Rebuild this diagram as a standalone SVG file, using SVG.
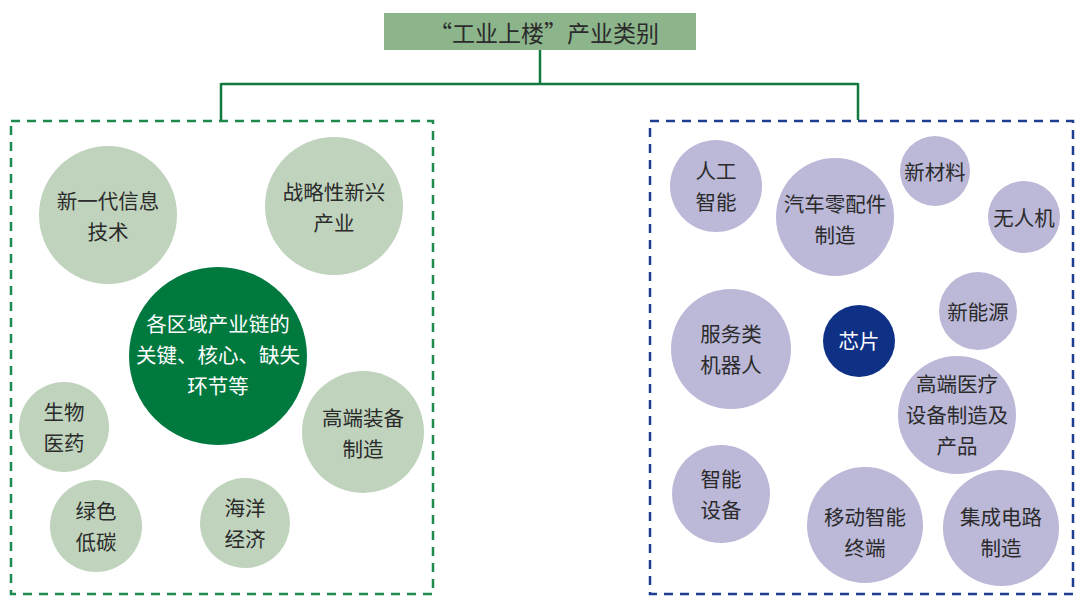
<svg xmlns="http://www.w3.org/2000/svg" width="1080" height="603" viewBox="0 0 1080 603">
<style>
text{font-family:"Noto Sans CJK SC","Noto Sans",sans-serif;font-size:20.5px;text-anchor:middle;dominant-baseline:central;fill:#2b2b2b}
.t{font-size:23px}
.g{fill:#c0d3bd}
.dg{fill:#00793f}
.p{fill:#bbb8d8}
.nv{fill:#0e3186}
.w{fill:#ffffff}
.ln{stroke:#127a40;stroke-width:2.5;fill:none}
</style>
<rect width="1080" height="603" fill="#ffffff"/>
<g id="title">
<rect x="384" y="13" width="312" height="37" fill="#8db58b"/>
<text class="t" x="544" y="32">“工业上楼”产业类别</text>
</g>
<g id="connectors">
<path class="ln" d="M540 50V84M221 84H858M221 83V120M858 83V120"/>
</g>
<g id="left-group">
<rect x="11" y="121" width="422" height="473" fill="none" stroke="#1e8a4e" stroke-width="2.5" stroke-dasharray="9,7"/>
</g>
<g id="right-group">
<rect x="650" y="121" width="423" height="473" fill="none" stroke="#1f3d8f" stroke-width="2.5" stroke-dasharray="9,7"/>
</g>
<g id="n1"><circle class="g" cx="108" cy="215" r="69"/><text x="108" y="200">新一代信息</text><text x="108" y="231">技术</text></g>
<g id="n2"><circle class="g" cx="334" cy="206" r="69"/><text x="334" y="191">战略性新兴</text><text x="334" y="222">产业</text></g>
<g id="n3"><circle class="dg" cx="218" cy="356" r="89"/><text class="w" x="218" y="323">各区域产业链的</text><text class="w" x="218" y="354">关键、核心、缺失</text><text class="w" x="218" y="385">环节等</text></g>
<g id="n4"><circle class="g" cx="64" cy="427" r="45"/><text x="64" y="411">生物</text><text x="64" y="442">医药</text></g>
<g id="n5"><circle class="g" cx="363" cy="432" r="61"/><text x="363" y="417">高端装备</text><text x="363" y="448">制造</text></g>
<g id="n6"><circle class="g" cx="96" cy="526" r="46"/><text x="96" y="510">绿色</text><text x="96" y="541">低碳</text></g>
<g id="n7"><circle class="g" cx="245" cy="523" r="45"/><text x="245" y="507">海洋</text><text x="245" y="538">经济</text></g>
<g id="m1"><circle class="p" cx="716" cy="186" r="46"/><text x="716" y="170">人工</text><text x="716" y="201">智能</text></g>
<g id="m2"><circle class="p" cx="835" cy="217" r="59"/><text x="835" y="203">汽车零配件</text><text x="835" y="234">制造</text></g>
<g id="m3"><circle class="p" cx="935" cy="171" r="35"/><text x="935" y="171">新材料</text></g>
<g id="m4"><circle class="p" cx="1024" cy="217" r="36"/><text x="1024" y="217">无人机</text></g>
<g id="m5"><circle class="p" cx="978" cy="311" r="39"/><text x="978" y="311">新能源</text></g>
<g id="m6"><circle class="nv" cx="859" cy="341" r="36"/><text class="w" x="859" y="340">芯片</text></g>
<g id="m7"><circle class="p" cx="731" cy="349" r="60"/><text x="731" y="333">服务类</text><text x="731" y="364">机器人</text></g>
<g id="m8"><circle class="p" cx="957" cy="415" r="59"/><text x="957" y="383">高端医疗</text><text x="957" y="414">设备制造及</text><text x="957" y="445">产品</text></g>
<g id="m9"><circle class="p" cx="721" cy="494" r="49"/><text x="721" y="478">智能</text><text x="721" y="509">设备</text></g>
<g id="m10"><circle class="p" cx="865" cy="525" r="58"/><text x="865" y="516">移动智能</text><text x="865" y="547">终端</text></g>
<g id="m11"><circle class="p" cx="1001" cy="528" r="58"/><text x="1001" y="516">集成电路</text><text x="1001" y="547">制造</text></g>
</svg>
